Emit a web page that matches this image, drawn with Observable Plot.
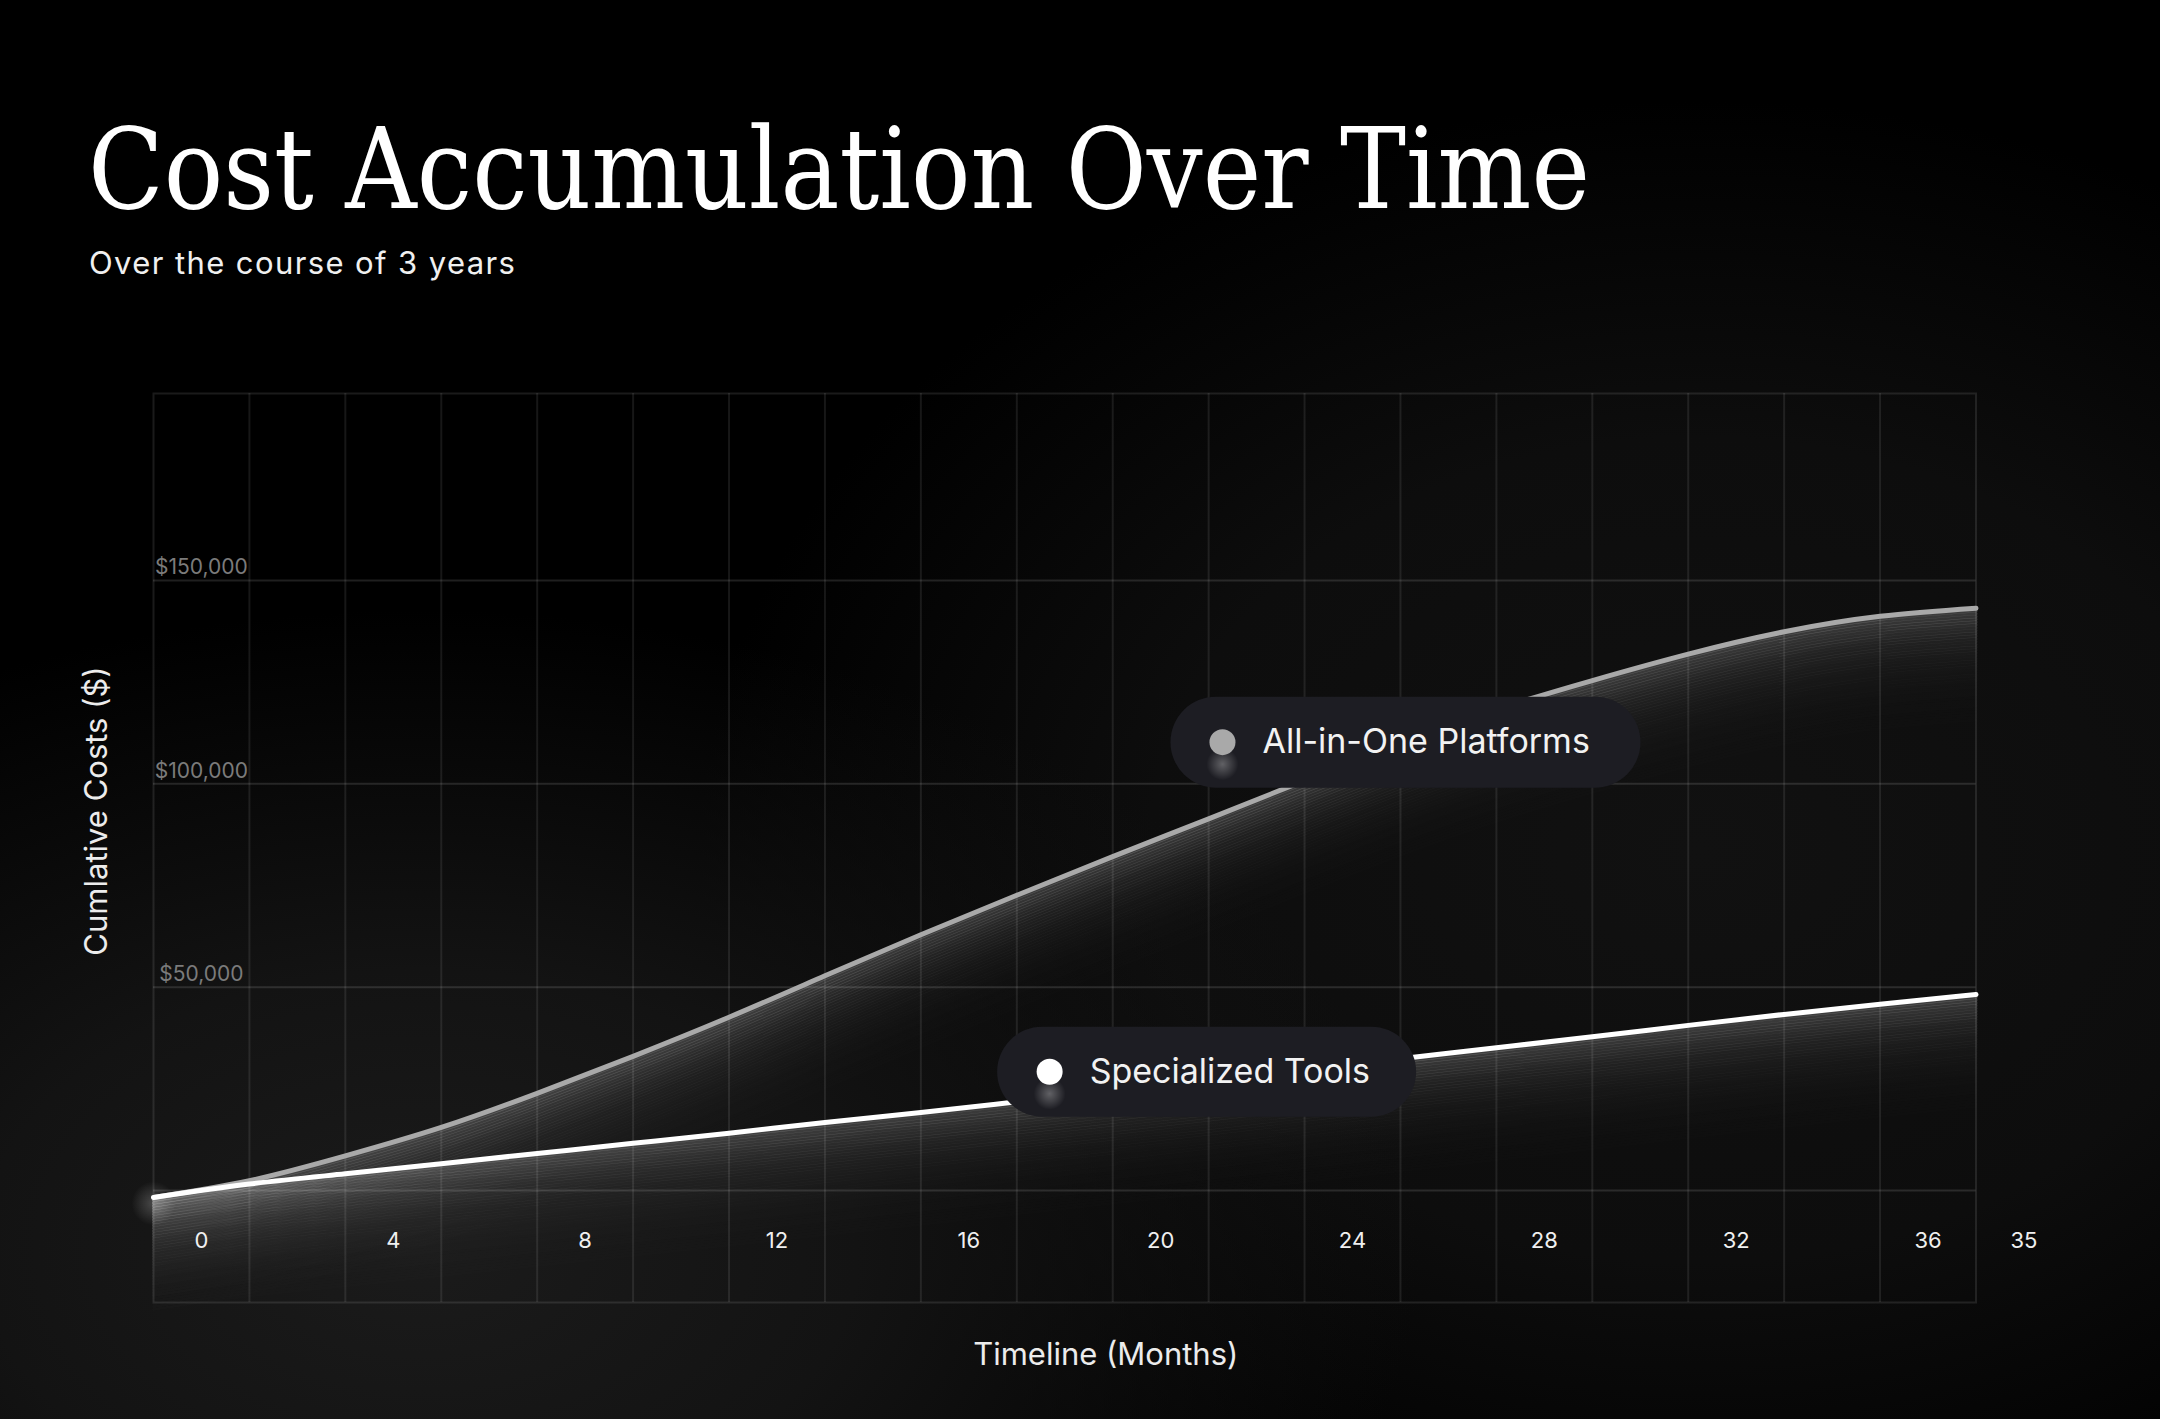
<!DOCTYPE html>
<html><head><meta charset="utf-8">
<script src="https://cdn.jsdelivr.net/npm/d3@7"></script>
<script src="https://cdn.jsdelivr.net/npm/@observablehq/plot@0.6"></script>
<style>
html,body{margin:0;padding:0;width:2160px;height:1419px;overflow:hidden;background:#000;}
body{
  background-color:#000;
  background-image:
    radial-gradient(ellipse 1250px 800px at 420px 1250px, #1b1b1b 0%, #131313 35%, rgba(0,0,0,0) 80%),
    radial-gradient(ellipse 1000px 750px at 1700px 850px, #111 0%, #0d0d0d 55%, rgba(0,0,0,0) 100%);
}
#head{position:relative;height:300px;}
#title{position:absolute;left:88px;top:113px;margin:0;font:400 113px/1 "DejaVu Serif";color:#fff;white-space:nowrap;transform-origin:left center;}
#sub{position:absolute;left:89px;top:247px;font:400 31px/1 Inter;color:#f0f0f0;letter-spacing:1.4px;white-space:nowrap;}
#chart svg{display:block;}
</style></head>
<body>
<div id="head"><h1 id="title">Cost Accumulation Over Time</h1><div id="sub">Over the course of 3 years</div></div>
<div id="chart"></div>
<script>
// ---- data ----
const months = [-1, 1, 3, 5, 7, 9, 11, 13, 15, 17, 19, 21, 23, 25, 27, 29, 31, 33, 35, 37];
const allInOne = [-1700, 2400, 8500, 15500, 23900, 33000, 42600, 52800, 62900, 72600, 82100, 91400, 100800, 110000, 118300, 125400, 131900, 137400, 141200, 143200];
const specialized = [-1700, 1600, 4100, 6600, 9100, 11600, 14100, 16700, 19200, 21800, 24400, 27000, 29700, 32400, 35100, 37800, 40600, 43300, 45800, 48200];
const seriesNames = ["All-in-One Platforms", "Specialized Tools"];
const labelMonths = [25, 21];
const xTickValues = [0, 4, 8, 12, 16, 20, 24, 28, 32, 36, 38];
const xTickLabels = ["0", "4", "8", "12", "16", "20", "24", "28", "32", "36", "35"];
const yGridValues = [0, 50000, 100000, 150000];
const yLabelValues = [50000, 100000, 150000];
const yDomain = [-27540, 195980];
const yAxisTitle = "Cumlative Costs ($)";
const xAxisTitle = "Timeline (Months)";

const rows = months.map((m, i) => ({month: m, allInOne: allInOne[i], specialized: specialized[i]}));
const keys = ["allInOne", "specialized"];

// ---- styles ----
const lineColors = ["#a9a9a9", "#ffffff"];
const pillStyle = [
  {w: 470, h: 91, dx: 5, dy: -1, dotDx: -183, textDx: -143},
  {w: 419, h: 90, dx: -2, dy: -9, dotDx: -157, textDx: -117}
];
const curve = "natural";
const gridStroke = "#ffffff";

function pillSymbol(w, h) {
  const r = h / 2, a = w / 2 - r;
  return {draw(ctx) {
    ctx.moveTo(-a, -r);
    ctx.lineTo(a, -r);
    ctx.arc(a, 0, r, -Math.PI / 2, Math.PI / 2);
    ctx.lineTo(-a, r);
    ctx.arc(-a, 0, r, Math.PI / 2, Math.PI * 1.5);
    ctx.closePath();
  }};
}

function defs() {
  const ns = "http://www.w3.org/2000/svg";
  const d = document.createElementNS(ns, "defs");
  d.innerHTML = `
    <radialGradient id="dotGlow" cx="50%" cy="50%" r="50%">
      <stop offset="0%" stop-color="#ffffff" stop-opacity="0.3"/>
      <stop offset="100%" stop-color="#ffffff" stop-opacity="0"/>
    </radialGradient>
    <radialGradient id="startGlow" cx="50%" cy="50%" r="50%">
      <stop offset="0%" stop-color="#ffffff" stop-opacity="0.22"/>
      <stop offset="100%" stop-color="#ffffff" stop-opacity="0"/>
    </radialGradient>`;
  return d;
}

const marks = [defs];

// grid
marks.push(Plot.ruleX(months.slice(1, -1), {stroke: gridStroke, strokeOpacity: 0.09, strokeWidth: 2}));
marks.push(Plot.ruleY(yGridValues, {stroke: gridStroke, strokeOpacity: 0.12, strokeWidth: 2}));
marks.push(Plot.frame({stroke: gridStroke, strokeOpacity: 0.1, strokeWidth: 2}));

// glows under lines
const N = 40, step = 2.8;
keys.forEach((k) => {
  for (let s = 1; s <= N; s++) {
    marks.push(Plot.line(rows, {
      x: "month", y: k, curve, dy: s * step,
      stroke: "#ffffff", strokeWidth: 3.2,
      strokeOpacity: 0.21 * Math.exp(-s * step / 32)
    }));
  }
});
marks.push(Plot.dot([rows[0]], {x: "month", y: "specialized", r: 22, fill: "url(#startGlow)", dy: 6}));

// lines
keys.forEach((k, i) => {
  marks.push(Plot.line(rows, {x: "month", y: k, curve, stroke: lineColors[i], strokeWidth: 5, strokeLinecap: "round"}));
});

// y labels
marks.push(Plot.text(yLabelValues, {
  x: () => 0, y: d => d, text: d => d3.format("$,")(d),
  lineAnchor: "bottom", dy: -6, fill: "#7b7b7b", fontSize: 21
}));

// x tick labels
marks.push(Plot.text(xTickValues, {
  x: d => d, text: (d, i) => xTickLabels[i], frameAnchor: "bottom", dy: -55,
  fill: "#f0f0f0", fontSize: 22
}));

// axis titles
marks.push(Plot.text([yAxisTitle], {frameAnchor: "left", textAnchor: "middle", rotate: -90, dx: -56, dy: -37, fill: "#ececec", fontSize: 31, letterSpacing: 1.6}));
marks.push(Plot.text([xAxisTitle], {frameAnchor: "bottom", textAnchor: "middle", dx: 41, dy: 62, fill: "#ececec", fontSize: 31, letterSpacing: 1.9}));

// labels (pills)
keys.forEach((k, i) => {
  const m = labelMonths[i];
  const row = rows.find(r => r.month === m);
  const st = pillStyle[i];
  const anchor = [{month: m, value: row[k], name: seriesNames[i]}];
  marks.push(Plot.dot(anchor, {x: "month", y: "value", r: 10, symbol: pillSymbol(st.w, st.h), fill: "#1d1d23", stroke: "none", dx: st.dx, dy: st.dy}));
  marks.push(Plot.dot(anchor, {x: "month", y: "value", r: 16, fill: "url(#dotGlow)", dx: st.dx + st.dotDx, dy: st.dy + 22}));
  marks.push(Plot.dot(anchor, {x: "month", y: "value", r: 13, fill: lineColors[i], stroke: "none", dx: st.dx + st.dotDx, dy: st.dy}));
  marks.push(Plot.text(anchor, {x: "month", y: "value", text: "name", textAnchor: "start", dx: st.dx + st.textDx, dy: st.dy, fill: "#f2f2f2", fontSize: 34, letterSpacing: 1.3}));
});

const chart = Plot.plot({
  width: 2160,
  height: 1119,
  marginTop: 93,
  marginBottom: 117,
  marginLeft: 153,
  marginRight: 184.5,
  style: {background: "transparent", color: "#fff", fontFamily: "Inter", overflow: "visible"},
  x: {domain: [-1, 37], axis: null},
  y: {domain: yDomain, axis: null},
  marks
});
document.getElementById("chart").appendChild(chart);

const t = document.getElementById("title");
const w = t.getBoundingClientRect().width;
t.style.transform = `scaleX(${1502 / w})`;
</script>
</body></html>
